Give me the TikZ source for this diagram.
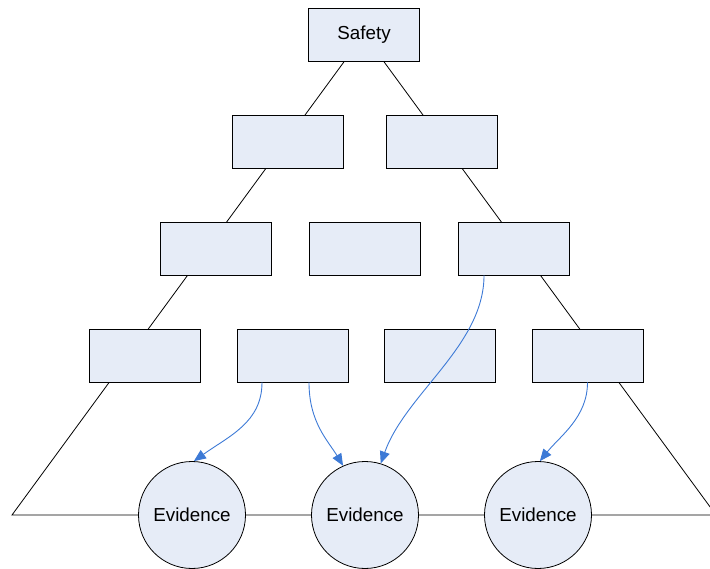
\documentclass[tikz,border=0pt]{standalone}
\usepackage{fontspec}
\setmainfont{Liberation Sans}
\usetikzlibrary{arrows.meta}
\definecolor{boxfill}{HTML}{E6ECF7}
\definecolor{arrowblue}{HTML}{3D7AD6}
\begin{document}
\begin{tikzpicture}[x=1pt,y=-1pt,
  box/.style={draw=black, fill=boxfill, minimum width=111pt, minimum height=53pt, inner sep=0pt, line width=0.8pt, font=\fontsize{18.8}{22}\selectfont},
  ev/.style={circle, draw=black, fill=boxfill, minimum size=107pt, inner sep=0pt, line width=0.8pt, font=\fontsize{18.8}{22}\selectfont},
  link/.style={draw=arrowblue, line width=0.9pt, -{Triangle[length=12pt,width=10pt]}},
  frame/.style={draw=black, line width=0.8pt}]
\useasboundingbox (0,0) rectangle (710,569);
\coordinate (apex) at (364,34.5);
\coordinate (L) at (12,515);
\coordinate (R) at (716,515);
\begin{scope}
  \clip (0,0) rectangle (710,569);
  \draw[frame] (apex) -- (L) -- (R) -- cycle;
\end{scope}
% boxes
\node[box] (safety) at (apex) {Safety};
\node[box] (r2a) at (287.5,141.5) {};
\node[box] (r2b) at (441.5,141.5) {};
\node[box] (r3a) at (215.5,248.5) {};
\node[box] (r3b) at (364.5,248.5) {};
\node[box] (r3c) at (513.5,248.5) {};
\node[box] (r4a) at (144.5,355.5) {};
\node[box] (r4b) at (292.5,355.5) {};
\node[box] (r4c) at (439.5,355.5) {};
\node[box] (r4d) at (587.5,355.5) {};
% evidence circles
\node[ev] (e1) at (192,515) {Evidence};
\node[ev] (e2) at (365,515) {Evidence};
\node[ev] (e3) at (538,515) {Evidence};
% arrows
\draw[link] ([xshift=-30.5pt]r4b.south) .. controls +(0,40) and +(35,-25) .. (e1.88);
\draw[link] ([xshift=16.5pt]r4b.south) .. controls +(0,40) and +(-15,-25) .. (e2.114);
\draw[link] ([xshift=-29.5pt]r3c.south) .. controls +(0,70) and +(25,-70) .. (e2.73);
\draw[link] (r4d.south) .. controls +(0,35) and +(20,-25) .. (e3.88);
\end{tikzpicture}
\end{document}
